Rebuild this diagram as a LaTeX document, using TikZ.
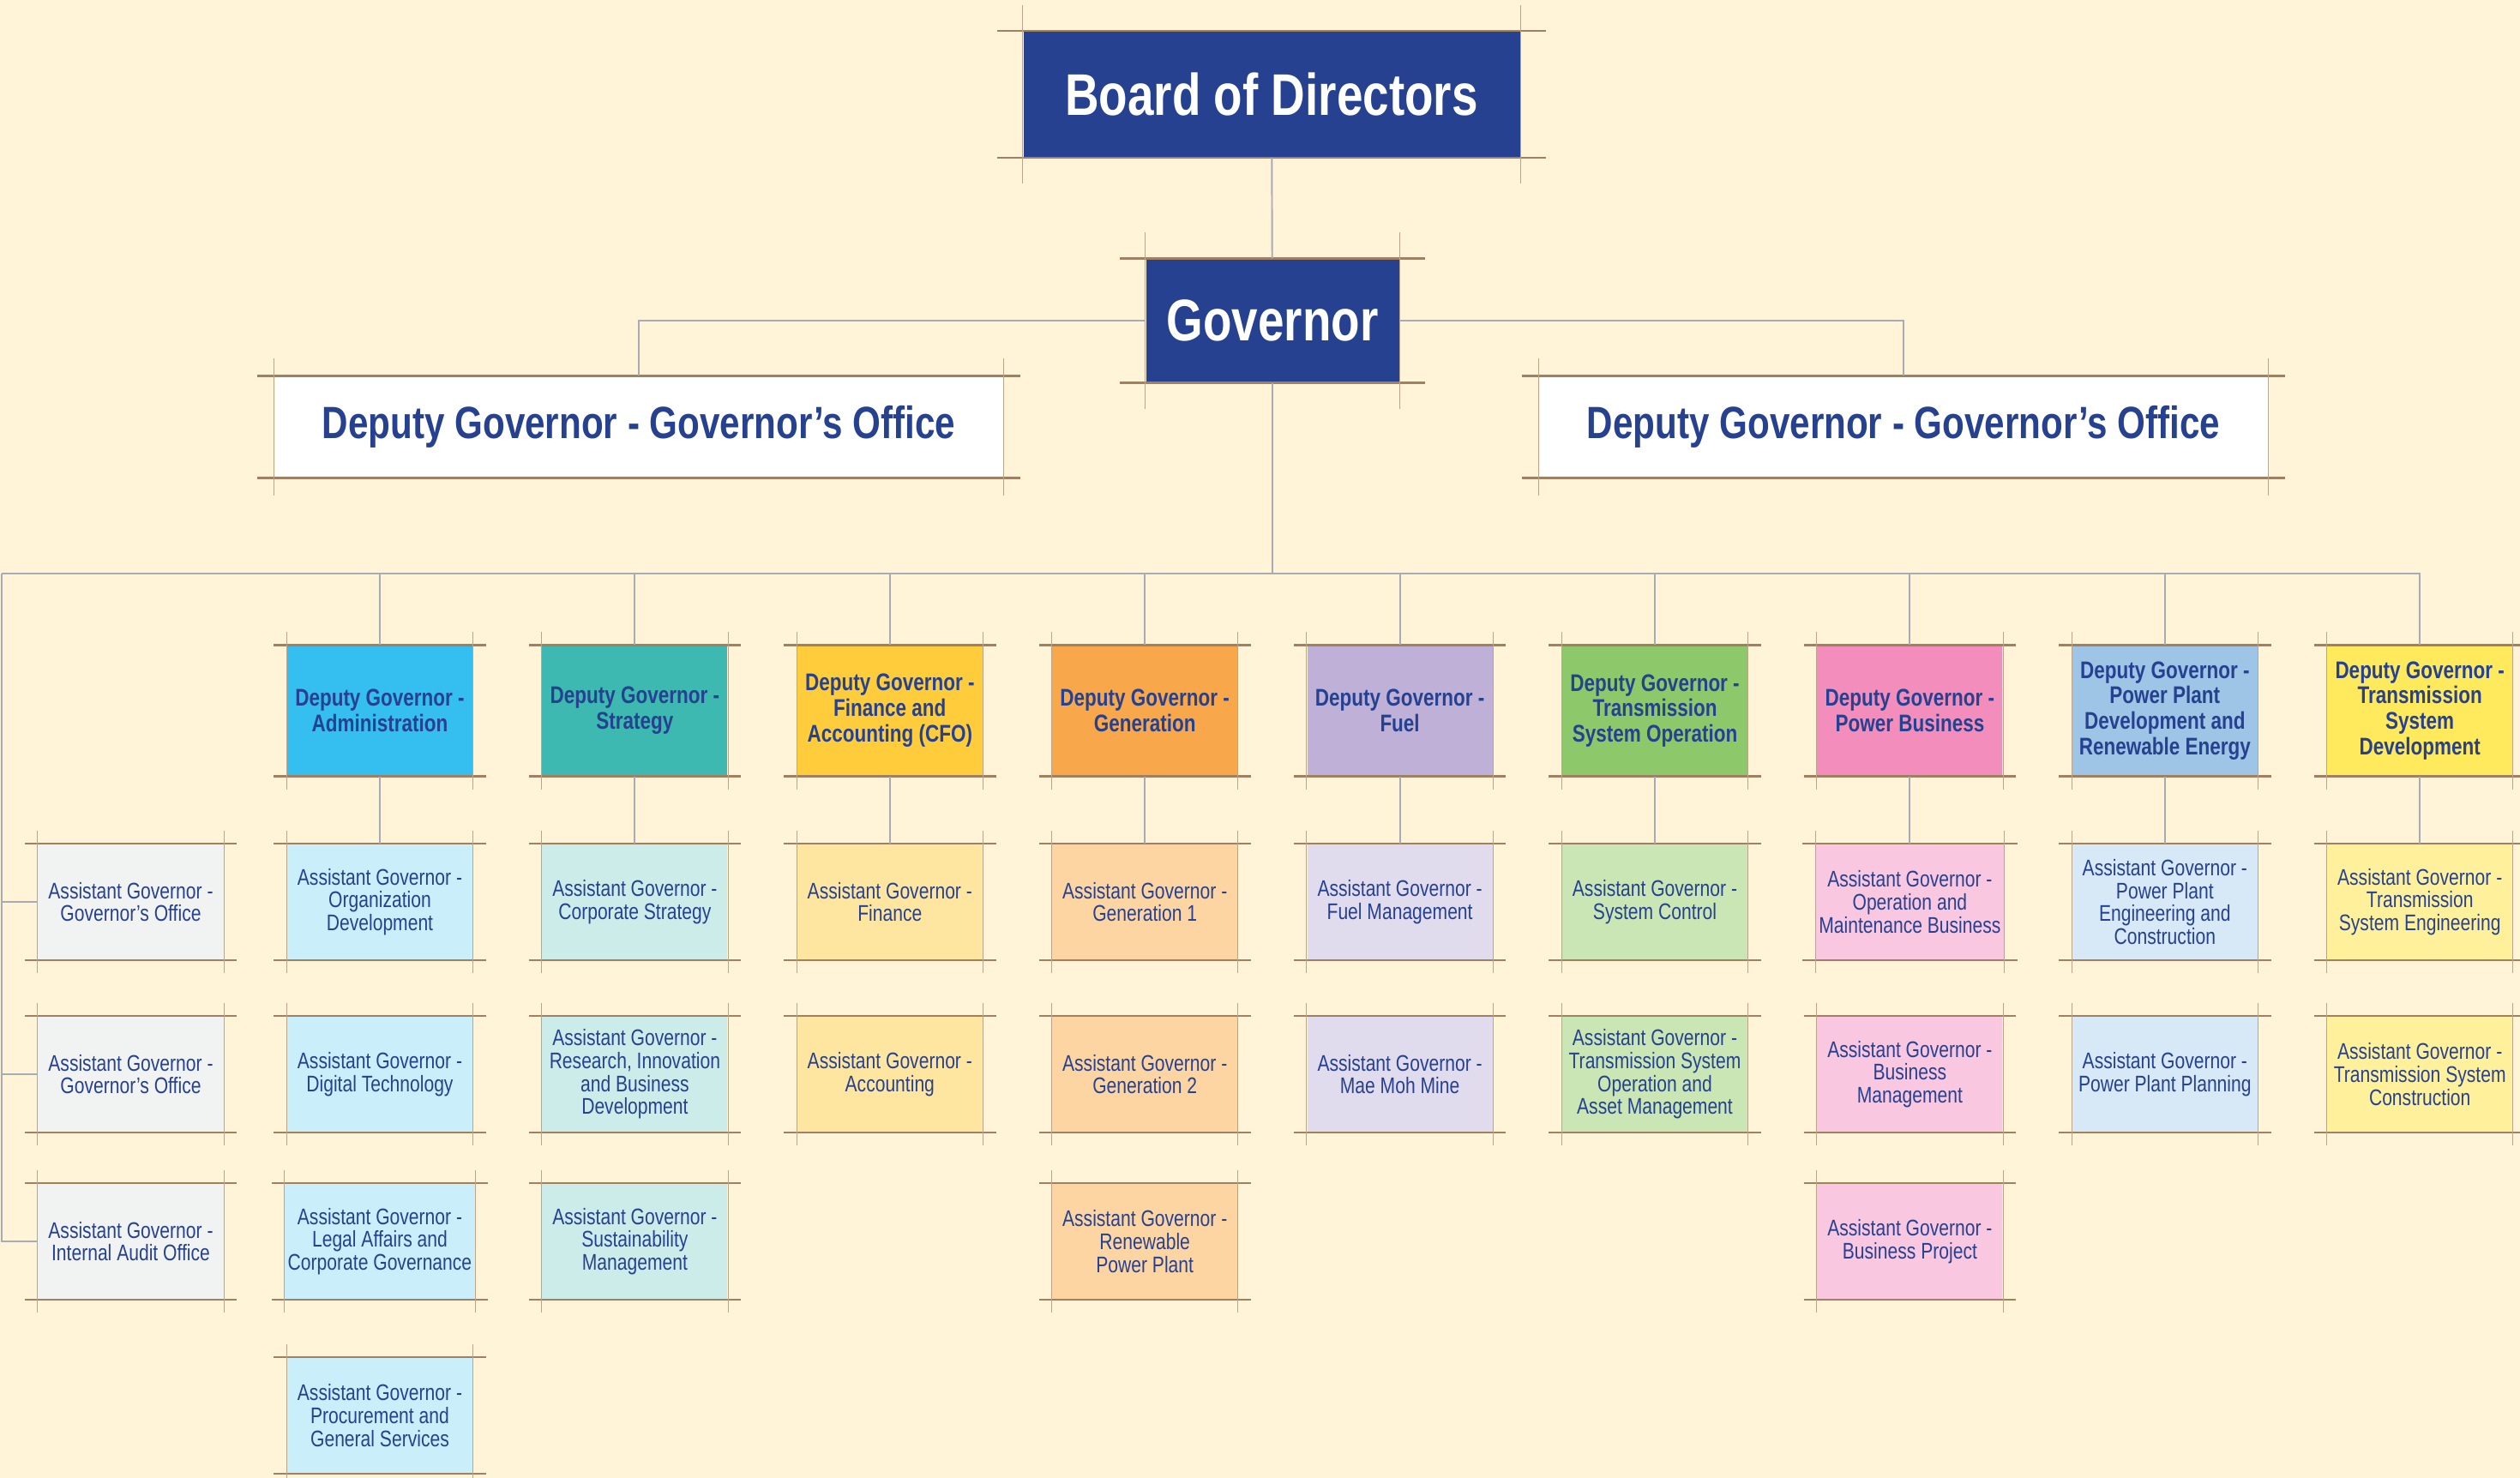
\documentclass[tikz,border=0pt]{standalone}
\usepackage{fontspec}
\setmainfont{Liberation Sans}[FakeStretch=0.8]
\usetikzlibrary{calc}
\definecolor{cream}{HTML}{FFF3D8}
\definecolor{navy}{HTML}{26418F}
\definecolor{edgebrown}{HTML}{A08060}
\definecolor{sidebrown}{HTML}{BBA487}
\definecolor{linkgray}{HTML}{A7ABB5}
\definecolor{dadmin}{HTML}{35BEF0}\definecolor{aadmin}{HTML}{CBEEFB}
\definecolor{dstrat}{HTML}{3DB9B1}\definecolor{astrat}{HTML}{CCECEA}
\definecolor{dfin}{HTML}{FFCC3B}\definecolor{afin}{HTML}{FFE6A0}
\definecolor{dgen}{HTML}{F8A84A}\definecolor{agen}{HTML}{FCD5A3}
\definecolor{dfuel}{HTML}{BEB0D6}\definecolor{afuel}{HTML}{E1DBEE}
\definecolor{dtso}{HTML}{8DC96B}\definecolor{atso}{HTML}{C9E6B4}
\definecolor{dpbiz}{HTML}{F38DBC}\definecolor{apbiz}{HTML}{F9C7DF}
\definecolor{dppd}{HTML}{9EC4E6}\definecolor{appd}{HTML}{D7E8F6}
\definecolor{dtsd}{HTML}{FFE95D}\definecolor{atsd}{HTML}{FFF19B}
\definecolor{agray}{HTML}{F1F2F2}
\tikzset{
  sketch/.style={append after command={\pgfextra{\let\sk\tikzlastnode}
    ([xshift=-#1]\sk.north west) edge[topedge] ([xshift=#1]\sk.north east)
    ([xshift=-#1]\sk.south west) edge[topedge] ([xshift=#1]\sk.south east)
    ([yshift=#1]\sk.north west) edge[sideedge] ([yshift=-#1]\sk.south west)
    ([yshift=#1]\sk.north east) edge[sideedge] ([yshift=-#1]\sk.south east)}},
  sketch/.default=1.5mm,
  topedge/.style={draw=edgebrown,line width=.7pt},
  sideedge/.style={draw=sidebrown,line width=.3pt},
  link/.style={draw=linkgray,line width=.55pt},
  topbox/.style={fill=navy,text=white,font=\fontsize{19.5}{22}\selectfont\bfseries,sketch=3mm},
  officebox/.style={fill=white,text=navy,font=\fontsize{15}{18}\selectfont\bfseries,minimum width=8.49cm,minimum height=1.18cm,sketch=2mm},
  deputy/.style={text=navy,font=\fontsize{8}{8.5}\selectfont\bfseries,align=center,minimum width=2.16cm,minimum height=1.52cm,inner sep=1pt,sketch},
  asst/.style={text=navy,font=\fontsize{7.5}{7.6}\selectfont,align=center,minimum width=2.16cm,minimum height=1.35cm,inner sep=1pt,sketch}
}
\begin{document}
\begin{tikzpicture}
\useasboundingbox (0,0) rectangle (29.39,-17.24);
\fill[cream] (0,0) rectangle (29.39,-17.24);
\node[topbox,minimum width=5.79cm,minimum height=1.47cm] (board) at (14.83,-1.10) {Board of Directors};
\node[topbox,minimum width=2.95cm,minimum height=1.44cm] (gov) at (14.84,-3.74) {Governor};
\node[officebox] (dgl) at (7.45,-4.98) {Deputy Governor - Governor’s Office};
\node[officebox] (dgr) at (22.20,-4.98) {Deputy Governor - Governor’s Office};
\coordinate (busl) at (0.02,-6.69);
\coordinate (gocol) at (1.525,-8.29);
\coordinate (r1) at (0,-10.52);\coordinate (r2) at (0,-12.53);
\coordinate (r3) at (0,-14.48);\coordinate (r4) at (0,-16.51);
\foreach \n/\c/\t [count=\i] in {
  admin/dadmin/{Deputy Governor -\\Administration},
  strat/dstrat/{Deputy Governor -\\Strategy},
  fin/dfin/{Deputy Governor -\\Finance and\\Accounting (CFO)},
  gen/dgen/{Deputy Governor -\\Generation},
  fuel/dfuel/{Deputy Governor -\\Fuel},
  tso/dtso/{Deputy Governor -\\Transmission\\System Operation},
  pbiz/dpbiz/{Deputy Governor -\\Power Business},
  ppd/dppd/{Deputy Governor -\\Power Plant\\Development and\\Renewable Energy},
  tsd/dtsd/{Deputy Governor -\\Transmission\\System\\Development}}
  \node[deputy,fill=\c] (\n) at ({4.43+(\i-1)*2.974},-8.29) {\t};
\foreach \p/\r/\c/\t in {
  gocol/1/agray/{Assistant Governor -\\Governor’s Office},
  gocol/2/agray/{Assistant Governor -\\Governor’s Office},
  gocol/3/agray/{Assistant Governor -\\Internal Audit Office},
  admin/1/aadmin/{Assistant Governor -\\Organization\\Development},
  admin/2/aadmin/{Assistant Governor -\\Digital Technology},
  admin/3/aadmin/{Assistant Governor -\\Legal Affairs and\\Corporate Governance},
  admin/4/aadmin/{Assistant Governor -\\Procurement and\\General Services},
  strat/1/astrat/{Assistant Governor -\\Corporate Strategy},
  strat/2/astrat/{Assistant Governor -\\Research, Innovation\\and Business\\Development},
  strat/3/astrat/{Assistant Governor -\\Sustainability\\Management},
  fin/1/afin/{Assistant Governor -\\Finance},
  fin/2/afin/{Assistant Governor -\\Accounting},
  gen/1/agen/{Assistant Governor -\\Generation 1},
  gen/2/agen/{Assistant Governor -\\Generation 2},
  gen/3/agen/{Assistant Governor -\\Renewable\\Power Plant},
  fuel/1/afuel/{Assistant Governor -\\Fuel Management},
  fuel/2/afuel/{Assistant Governor -\\Mae Moh Mine},
  tso/1/atso/{Assistant Governor -\\System Control},
  tso/2/atso/{Assistant Governor -\\Transmission System\\Operation and\\Asset Management},
  pbiz/1/apbiz/{Assistant Governor -\\Operation and\\Maintenance Business},
  pbiz/2/apbiz/{Assistant Governor -\\Business\\Management},
  pbiz/3/apbiz/{Assistant Governor -\\Business Project},
  ppd/1/appd/{Assistant Governor -\\Power Plant\\Engineering and\\Construction},
  ppd/2/appd/{Assistant Governor -\\Power Plant Planning},
  tsd/1/atsd/{Assistant Governor -\\Transmission\\System Engineering},
  tsd/2/atsd/{Assistant Governor -\\Transmission System\\Construction}}
  \node[asst,fill=\c] (\p\r) at (\p |- r\r) {\t};
\draw[link] (board) -- (gov);
\draw[link] (gov.west) -| (dgl.north);
\draw[link] (gov.east) -| (dgr.north);
\draw[link] (gov.south) -- (gov.south |- busl);
\draw[link] (busl) -| (tsd.north);
\draw[link] (busl) |- (gocol3.west);
\foreach \r in {1,2} \draw[link] (gocol\r.west) -- (gocol\r.west -| busl);
\foreach \p in {admin,strat,fin,gen,fuel,tso,pbiz,ppd,tsd} {
  \draw[link] (\p.north) -- (\p.north |- busl);
  \draw[link] (\p.south) -- (\p1.north);
}
\end{tikzpicture}
\end{document}
